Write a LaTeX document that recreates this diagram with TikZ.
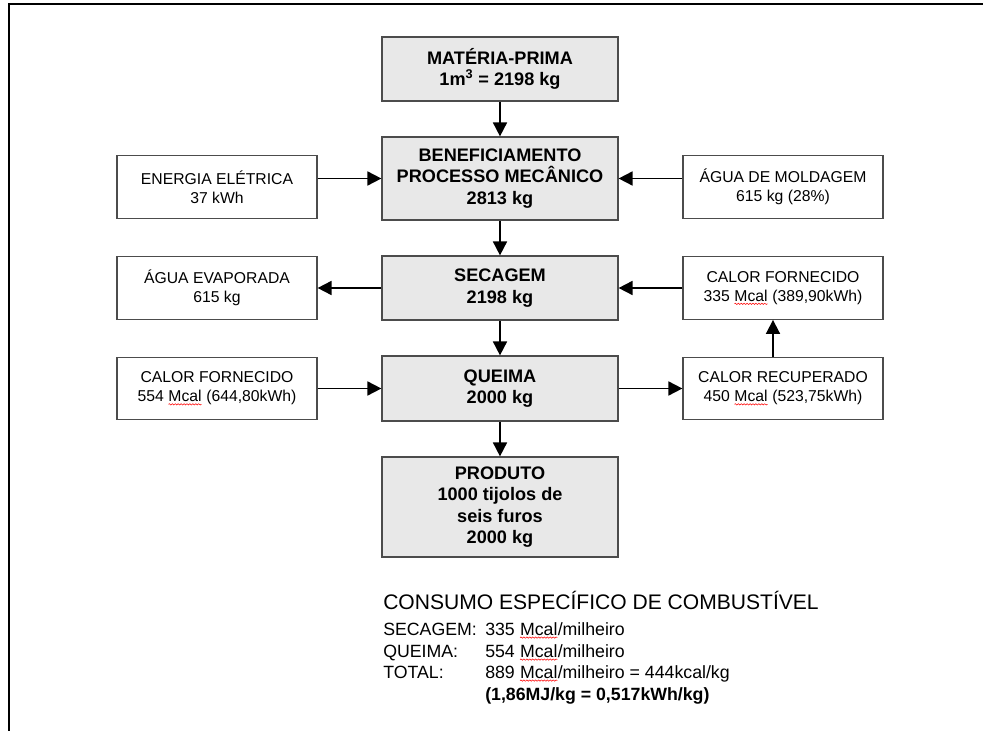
\documentclass[tikz,border=0pt]{standalone}
\usepackage{fontspec}
\setmainfont{Liberation Sans}
\usepackage{tikz}
\usetikzlibrary{positioning,arrows.meta,decorations.pathmorphing}

\definecolor{boxgray}{RGB}{232,232,232}
% red wavy mark of the spell checker
\newcommand{\spellerr}[1]{\tikz[baseline=(w.base)]{\node[inner sep=0pt, outer sep=0pt, minimum width=0pt, minimum height=0pt, draw=none, fill=none] (w) {#1};
    \draw[red, line width=0.4pt, decorate, decoration={snake, amplitude=0.5pt, segment length=2.2pt}] ([yshift=-1.8pt]w.south west) -- ([yshift=-1.8pt]w.south east);}}

\begin{document}
\begin{tikzpicture}[
        x=0.75pt, y=-0.75pt,
        block/.style={rectangle, draw=black!70, line width=0.9pt, fill=boxgray, minimum width=177pt, align=center, inner sep=0pt, font=\fontsize{13.6}{16.1}\selectfont\bfseries},
        side/.style={rectangle, draw=black!70, line width=0.9pt, fill=white, minimum width=150pt, minimum height=47pt, align=center, inner sep=0pt, font=\fontsize{11.8}{14.3}\selectfont},
        sumtxt/.style={anchor=base west, inner sep=0pt, font=\fontsize{13.3}{16}\selectfont},
        arr/.style={-{Triangle[length=10.5pt,width=10.5pt]}, line width=1.35pt}
      ]

      \useasboundingbox (0,0) rectangle (983,731);
      \draw[line width=2.2pt] (9,731) -- (9,4) -- (983,4);

      % main column
      \node[block, minimum height=48pt] (mp) at (500,69) {MATÉRIA-PRIMA\\1m\textsuperscript{3} = 2198 kg};
      \node[block, minimum height=62.25pt] (benef) at (500,178.5) {BENEFICIAMENTO\\PROCESSO MECÂNICO\\2813 kg};
      \node[block, minimum height=48pt] (sec) at (500,288) {SECAGEM\\2198 kg};
      \node[block, minimum height=48.75pt] (queima) at (500,388.5) {QUEIMA\\2000 kg};
      \node[block, minimum height=75pt] (produto) at (500,507) {PRODUTO\\1000 tijolos de\\seis furos\\2000 kg};

      % inputs and outputs
      \node[side] (energia) at (217,187) {ENERGIA ELÉTRICA\\37 kWh};
      \node[side] (moldagem) at (783,187) {ÁGUA DE MOLDAGEM\\615 kg (28\%)};
      \node[side] (evap) at (217,288) {ÁGUA EVAPORADA\\615 kg};
      \node[side] (calorsec) at (783,288) {CALOR FORNECIDO\\335 \spellerr{Mcal} (389,90kWh)};
      \node[side] (calorqueima) at (217,388.5) {CALOR FORNECIDO\\554 \spellerr{Mcal} (644,80kWh)};
      \node[side] (recup) at (783,388.5) {CALOR RECUPERADO\\450 \spellerr{Mcal} (523,75kWh)};

      \draw[arr] (mp) -- (benef);
      \draw[arr] (benef) -- (sec);
      \draw[arr] (sec) -- (queima);
      \draw[arr] (queima) -- (produto);
      \draw[arr] (energia.east |- benef.west) -- (benef.west);
      \draw[arr] (moldagem.west |- benef.east) -- (benef.east);
      \draw[arr] (sec.west) -- (evap.east |- sec.west);
      \draw[arr] (calorsec.west |- sec.east) -- (sec.east);
      \draw[arr] (calorqueima.east |- queima.west) -- (queima.west);
      \draw[arr] (queima.east) -- (recup.west |- queima.east);
      \draw[arr] ([xshift=-7.5pt]recup.north) -- ([xshift=-7.5pt]calorsec.south);

      % fuel consumption
      \node[sumtxt, font=\fontsize{15.8}{18}\selectfont] (consumo) at (383,609) {CONSUMO ESPECÍFICO DE COMBUSTÍVEL};
      \node[sumtxt] (lsec) at (383,635) {SECAGEM:};
      \node[sumtxt] (vsec) at (485,635) {335 \spellerr{Mcal}/milheiro};
      \node[sumtxt] (lqueima) at (383,657) {QUEIMA:};
      \node[sumtxt] (vqueima) at (485,657) {554 \spellerr{Mcal}/milheiro};
      \node[sumtxt] (ltotal) at (383,678) {TOTAL:};
      \node[sumtxt] (vtotal) at (485,678) {889 \spellerr{Mcal}/milheiro = 444kcal/kg};
      \node[sumtxt, font=\fontsize{13.3}{16}\selectfont\bfseries] (vmj) at (485,700) {(1,86MJ/kg = 0,517kWh/kg)};

    \end{tikzpicture}
\end{document}
